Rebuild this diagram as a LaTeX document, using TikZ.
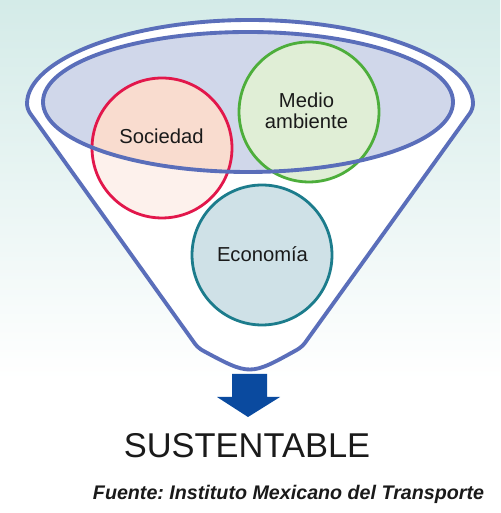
\documentclass[tikz,border=0pt]{standalone}
\usepackage{fontspec}
\setmainfont{Liberation Sans}
\usepackage{xcolor}
\usepackage{tikz}
\definecolor{bgtop}{RGB}{212, 235, 232}
\definecolor{funnelblue}{RGB}{90, 110, 186}
\definecolor{ellfill}{RGB}{208, 215, 234}
\definecolor{socred}{RGB}{226, 23, 75}
\definecolor{socpeach}{RGB}{249, 220, 207}
\definecolor{soclight}{RGB}{253, 241, 236}
\definecolor{medgreen}{RGB}{77, 174, 59}
\definecolor{medlight}{RGB}{224, 238, 214}
\definecolor{ecoteal}{RGB}{28, 124, 140}
\definecolor{ecolight}{RGB}{207, 225, 231}
\definecolor{arrowblue}{RGB}{10, 74, 159}
\definecolor{inkblack}{RGB}{26, 26, 26}
\frenchspacing

\begin{document}
\begin{tikzpicture}[x=0.02cm, y=0.02cm,
    topic/.style={circle, minimum size=2.8cm, inner sep=0pt, line width=1.6pt},
    toptext/.style={font=\fontsize{11.5}{12}\selectfont, text=inkblack, align=center}]
                % Background
                \useasboundingbox (0,0) rectangle (500,513);
                \fill[white] (0,0) rectangle (500,134);
                \shade[top color=bgtop, bottom color=white] (0,133) rectangle (500,513);

                % Funnel outline
                \filldraw[fill=white, draw=funnelblue, line width=2.2pt, line join=round, rounded corners=3pt]
                    (302,166) .. controls (250,137) .. (198,165) -- (27,404)
                    arc[start angle=180, end angle=0, x radius=223, y radius=89] -- cycle;

                % Top opening
                \fill[ellfill] (248,411) ellipse (205 and 70);

                % Circles
                \fill[soclight] (162,365) circle (70);
                \begin{scope}
                    \clip (248,411) ellipse (205 and 70);
                    \fill[socpeach] (162,365) circle (70);
                \end{scope}
                \node[topic, draw=socred] (soc) at (162,365) {};
                \node[topic, draw=medgreen, fill=medlight] (med) at (309,401) {};
                \node[topic, draw=ecoteal, fill=ecolight] (eco) at (262,258) {};
                \draw[funnelblue, line width=2.2pt] (248,411) ellipse (205 and 70);

                \node[toptext, anchor=base] (soctxt) at (161.5,369) {Sociedad};
                \node[toptext] (medtxt) at (306.5,402.5) {Medio\\ambiente};
                \node[toptext, anchor=base] (ecotxt) at (262.5,251) {Economía};

                % Result arrow
                \fill[arrowblue] (232,139) -- (267,139) -- (267,116) -- (280,116)
                    -- (248,96) -- (217,116) -- (232,116) -- cycle;

                \node[font=\fontsize{19.6}{22}\selectfont, text=inkblack, anchor=base] (result) at (247,55) {SUSTENTABLE};
                \node[font=\fontsize{11.2}{13}\selectfont\bfseries\itshape, text=inkblack, anchor=base] (source) at (288.5,13) {Fuente: Instituto Mexicano del Transporte};
            \end{tikzpicture}
\end{document}
